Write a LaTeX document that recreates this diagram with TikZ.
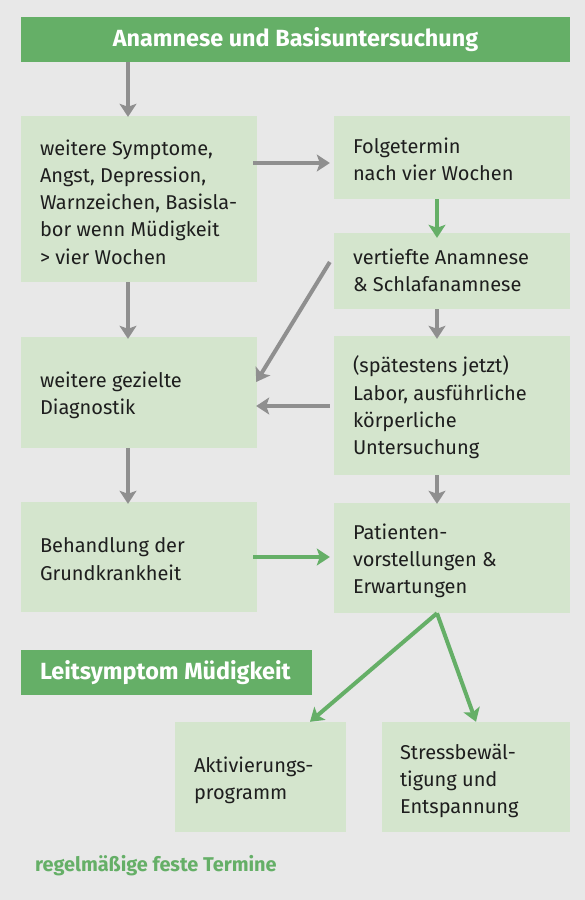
\documentclass[tikz,border=0pt]{standalone}
\usepackage{fontspec}
\setmainfont{Fira Sans}
\usetikzlibrary{arrows.meta,calc}
\definecolor{bg}{HTML}{E8E8E8}
\definecolor{boxg}{HTML}{D4E5CD}
\definecolor{hdrg}{HTML}{65AF67}
\definecolor{arrgray}{HTML}{8F8F8F}
\definecolor{txt}{HTML}{1E1E1E}
\newcommand{\bodyfnt}{\fontsize{20}{27.3}\selectfont}
\newcommand{\hdrfnt}{\fontsize{23.4}{26}\selectfont\bfseries}
\begin{document}
\begin{tikzpicture}[x=1pt,y=-1pt,
  box/.style={fill=boxg, draw=none, inner sep=0pt, anchor=center, minimum width=236pt},
  txtn/.style={anchor=west, inner sep=0pt, align=left, font=\bodyfnt, text=txt},
  hdr/.style={fill=hdrg, draw=none, inner sep=0pt, text=white, font=\hdrfnt, anchor=center},
  garr/.style={draw=arrgray, line width=4pt, -{Stealth[length=13pt,width=17pt,inset=3pt]}},
  grarr/.style={draw=hdrg, line width=4pt, -{Stealth[length=13pt,width=17pt,inset=3pt]}}]
\fill[bg] (0,0) rectangle (585,900);
\useasboundingbox (0,0) rectangle (585,900);

\node[hdr, minimum width=549pt, minimum height=45pt] (H0) at (295.5,39.5) {Anamnese und Basisuntersuchung};

\node[box, minimum height=166pt] (A) at (139,199) {};
\node[box, minimum height=83pt] (B) at (452,157.5) {};
\node[box, minimum height=76pt] (C) at (452,271) {};
\node[box, minimum height=111pt] (D) at (139,392.5) {};
\node[box, minimum height=139pt] (E) at (452,405.5) {};
\node[box, minimum height=110pt] (F) at (139,557) {};
\node[box, minimum height=110pt] (G) at (452,558) {};
\node[box, minimum width=171pt, minimum height=110pt] (H) at (260.5,777) {};
\node[box, minimum width=188pt, minimum height=110pt] (I) at (476,777) {};

\node[txtn] (At) at ([xshift=19pt,yshift=-3pt]A.west) {weitere Symptome,\\Angst, Depression,\\Warnzeichen, Basisla-\\bor wenn Müdigkeit\\> vier Wochen};
\node[txtn] (Bt) at ([xshift=19pt,yshift=-2pt]B.west) {Folgetermin\\nach vier Wochen};
\node[txtn] (Ct) at ([xshift=19pt,yshift=1pt]C.west) {vertiefte Anamnese\\\& Schlafanamnese};
\node[txtn] (Dt) at ([xshift=19pt,yshift=-3pt]D.west) {weitere gezielte\\Diagnostik};
\node[txtn] (Et) at ([xshift=19pt,yshift=-2pt]E.west) {(spätestens jetzt)\\Labor, ausführliche\\körperliche\\Untersuchung};
\node[txtn] (Ft) at ([xshift=19pt,yshift=-2pt]F.west) {Behandlung der\\Grundkrankheit};
\node[txtn] (Gt) at ([xshift=19pt,yshift=-3pt]G.west) {Patienten-\\vorstellungen \&\\Erwartungen};
\node[txtn] (Ht) at ([xshift=19pt,yshift=-3pt]H.west) {Aktivierungs-\\programm};
\node[txtn] (It) at ([xshift=18pt,yshift=-4pt]I.west) {Stressbewäl-\\tigung und\\Entspannung};

\node[hdr, minimum width=291pt, minimum height=45pt] (L) at (166.5,672.5) {};
\node[anchor=west, inner sep=0pt, text=white, font=\hdrfnt] (Lt) at ([xshift=19pt]L.west) {Leitsymptom Müdigkeit};

\node[anchor=west, inner sep=0pt, text=hdrg, font=\fontsize{19.9}{22}\selectfont\bfseries] (T) at (35,866) {regelmäßige feste Termine};

% connectors
\coordinate (xl) at (128,0);
\coordinate (xr) at (437,0);
\draw[garr] (H0.south -| xl) -- ([yshift=-1pt]A.north -| xl);
\draw[garr] ([xshift=-4pt]A.east |- 0,163) -- ([xshift=-4pt]B.west |- 0,163);
\draw[grarr] (B.south -| xr) -- ([yshift=-5pt]C.north -| xr);
\draw[garr] ([xshift=-4pt]C.west |- 0,262) -- ([xshift=-1pt]D.east |- 0,382);
\draw[garr] (A.south -| xl) -- ([yshift=-2pt]D.north -| xl);
\draw[garr] (C.south -| xr) -- ([yshift=-3pt]E.north -| xr);
\draw[garr] ([xshift=-4pt]E.west |- 0,406) -- ([xshift=-1pt]D.east |- 0,406);
\draw[garr] (D.south -| xl) -- ([yshift=-2pt]F.north -| xl);
\draw[garr] (E.south -| xr) -- ([yshift=-1pt]G.north -| xr);
\draw[grarr] ([xshift=-4pt]F.east |- 0,557) -- ([xshift=-4pt]G.west |- 0,557);
\coordinate (gs) at (G.south -| xr);
\draw[grarr] (gs) -- (H.north -| 310,0);
\draw[grarr] (gs) -- (I.north -| 476,0);
\end{tikzpicture}
\end{document}
